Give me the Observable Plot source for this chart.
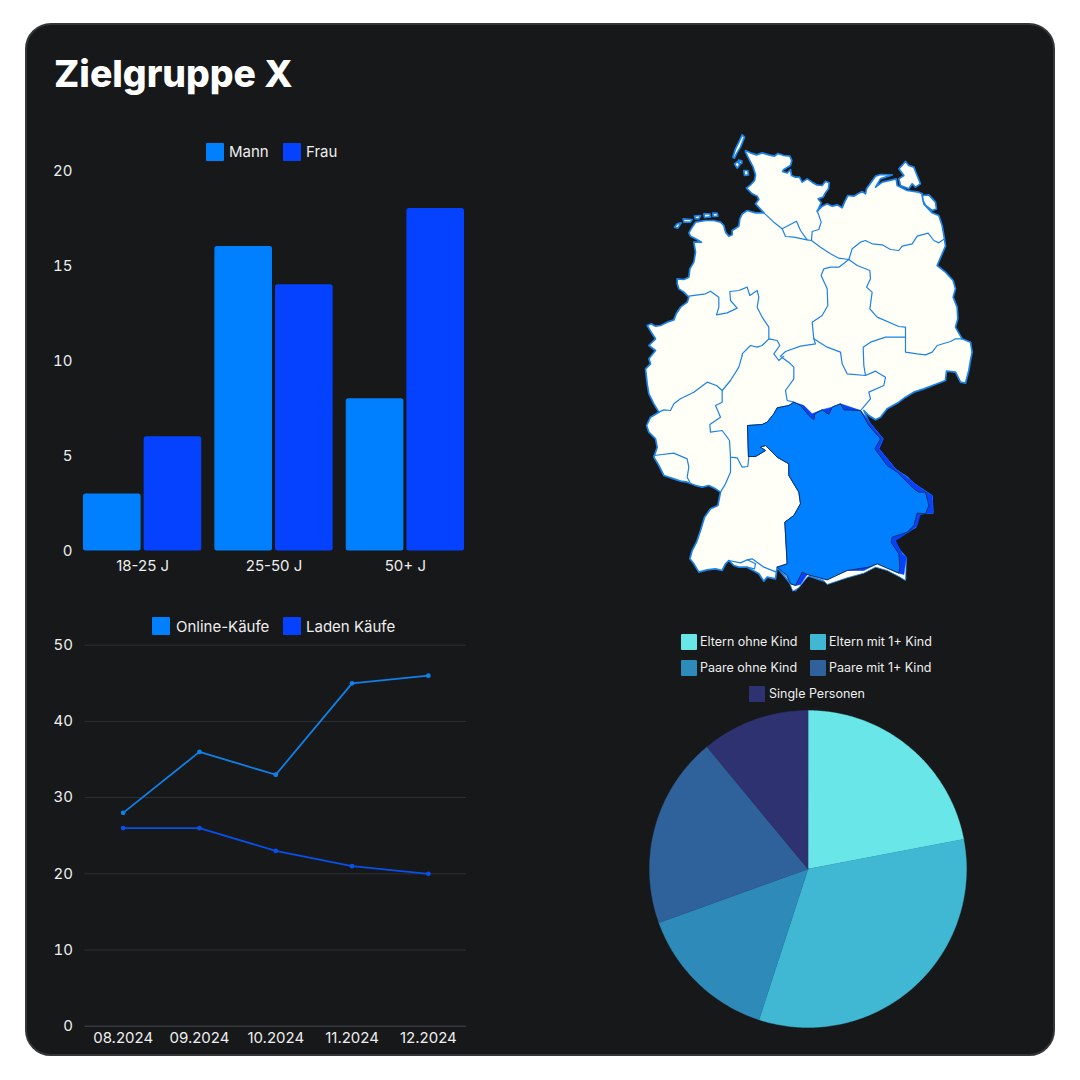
<!DOCTYPE html>
<html lang="de">
<head>
<meta charset="utf-8">
<script src="https://cdn.jsdelivr.net/npm/d3@7"></script>
<script src="https://cdn.jsdelivr.net/npm/@observablehq/plot@0.6"></script>
<style>
html,body{margin:0;padding:0;background:#fff;width:1080px;height:1080px;overflow:hidden;font-family:Inter,sans-serif}
#card{position:absolute;left:25px;top:23px;width:1026px;height:1029px;background:#16181a;border:2px solid #333537;border-radius:26px}
#title{position:absolute;left:54px;top:52px;font:800 37.3px/44px Inter,sans-serif;color:#fff;margin:0}
.slot{position:absolute}
.slot svg{overflow:visible;display:block}
.lg{position:absolute;color:#eee;white-space:nowrap}
.lg i{position:absolute;border-radius:1px}
</style>
</head>
<body>
<div id="card"></div>
<h1 id="title">Zielgruppe X</h1>
<div id="root"></div>
<script>
// ---------- Data ----------
const ageGroups = ["18-25 J", "25-50 J", "50+ J"];
const sexes = ["Mann", "Frau"];
const mann = [3, 16, 8];
const frau = [6, 14, 18];

const months = ["08.2024", "09.2024", "10.2024", "11.2024", "12.2024"];
const online = [28, 36, 33, 45, 46];
const laden = [26, 26, 23, 21, 20];
const lineTicks = [0, 10, 20, 30, 40, 50];
const barTicks = [0, 5, 10, 15, 20];

const segments = ["Eltern ohne Kind", "Eltern mit 1+ Kind", "Paare ohne Kind", "Paare mit 1+ Kind", "Single Personen"];
const shares = [22, 33, 14.5, 19.5, 11];
const segmentColors = ["#69e6e8", "#40b8d4", "#2e8ab8", "#2f619b", "#2f3270"];

const blueMann = "#0080ff", blueFrau = "#0542ff";
const lineOnline = "#1080e8", lineLaden = "#0a50e8";
const land = "#fffff8", border = "#1c82e6";

// Map outline in map units (traced); south lists have their own origin
const south = pts => pts.map(([x, y]) => [x, y + 675]);
const coastNorthEast = [[345,75],[360,82],[378,88],[395,82],[415,88],[432,92],[442,84],[460,90],[478,92],[484,105],[480,120],[460,132],[456,138],[470,142],[480,132],[483,150],[495,155],[507,155],[515,170],[530,160],[545,170],[558,178],[575,180],[585,167],[596,172],[594,190],[583,205],[578,215],[563,220],[572,232],[560,258],[575,242],[590,235],[605,242],[620,238],[635,247],[642,230],[652,210],[670,212],[682,205],[695,198],[705,205],[708,190],[722,170],[735,152],[750,147],[785,148],[750,160],[735,185],[755,170],[797,160],[800,180],[830,195],[865,200],[875,205],[880,235],[905,262],[925,270],[935,300],[942,340],[945,362],[935,385],[920,420],[945,440],[968,465],[975,490],[968,515],[980,545],[982,580],[975,605],[995,640],[1020,650],[1025,680]];
const borderSouth = south([[1020,30],[1015,60],[1005,98],[990,95],[975,65],[948,62],[945,90],[920,100],[880,115],[850,125],[825,140],[805,155],[770,175],[750,200],[735,208],[715,195],[700,180],[720,225],[755,265],[735,295],[790,355],[830,380],[865,420],[905,440],[905,485],[865,490],[855,530],[795,560],[790,580],[820,615],[825,685],[775,655],[730,640],[650,665],[590,695],[530,675],[495,720],[480,700],[440,650],[435,685],[410,680],[400,692],[385,670],[350,650],[325,650],[310,645],[295,630],[285,640],[275,660],[255,655],[230,658],[205,665],[190,640],[178,625],[185,600],[198,575],[210,540],[222,500],[240,475],[262,465],[270,425],[255,415],[235,405],[215,410],[195,405],[170,395],[150,392],[130,385],[100,375],[85,345],[70,320],[80,290],[75,265],[55,245],[48,225],[60,200],[85,185],[70,160],[55,130],[50,100],[45,55],[60,40],[55,25],[75,0]]);
const coastNorthWest = [[55,660],[75,640],[62,620],[50,600],[62,595],[75,602],[90,600],[110,590],[130,583],[137,565],[150,545],[170,530],[175,515],[160,500],[145,490],[140,475],[140,460],[160,462],[175,455],[178,430],[190,410],[195,380],[190,350],[213,350],[195,340],[180,332],[175,322],[185,305],[195,290],[225,285],[250,285],[270,290],[280,300],[285,320],[295,332],[305,328],[305,315],[325,302],[328,280],[335,265],[350,255],[375,262],[400,262],[375,235],[385,222],[380,212],[365,205],[348,188],[360,178],[372,165],[375,148],[368,125],[355,100],[345,80]];
const germany = [...coastNorthEast, ...borderSouth, ...coastNorthWest];

const islands = [
  [[335,28],[342,35],[330,65],[318,85],[312,98],[307,95],[315,70],[325,50]],
  [[312,115],[322,108],[328,118],[320,128]],
  [[324,104],[334,106],[334,114],[326,114]],
  [[340,135],[352,135],[354,148],[342,150]],
  [[132,305],[140,295],[152,292],[142,308]],
  [[158,280],[185,282],[180,290],[160,290]],
  [[192,272],[210,270],[205,280],[195,280]],
  [[220,265],[238,265],[240,274],[222,276]],
  [[247,263],[260,263],[262,272],[248,273]],
  [[825,108],[835,120],[850,125],[860,150],[870,175],[855,185],[845,175],[835,190],[810,180],[805,160],[820,150],[805,130]],
  [[875,210],[895,208],[915,230],[918,250],[905,255],[885,240],[878,225]]
];

const stateBorders = [
  [[400,262],[430,290],[455,310],[498,287],[510,315],[530,343]],
  [[455,310],[465,333],[490,335],[530,343],[543,345],[570,365],[600,385],[625,398],[655,402]],
  [[560,255],[572,290],[565,312],[545,318],[543,345]],
  [[655,402],[665,370],[690,350],[705,345],[725,355],[755,358],[780,372],[805,375],[815,362],[845,355],[860,332],[893,323],[910,345],[925,352],[942,340]],
  [[655,402],[680,420],[718,435],[720,460],[708,485],[725,500],[718,550],[740,575],[805,603],[825,605],[825,635],[825,680],[860,685],[885,688],[905,680],[920,660],[960,648],[975,640],[995,640]],
  [[825,635],[765,635],[720,650],[698,665],[700,720],[705,750]],
  [[655,402],[625,425],[600,425],[580,430],[572,450],[590,490],[592,540],[575,570],[545,590],[550,640],[555,655],[510,662],[465,678],[450,692],[480,715],[490,725],[490,760],[465,795],[470,825],[490,830]],
  [[550,640],[590,665],[630,680],[635,715],[650,745],[705,750],[735,737],[765,755],[760,780],[715,800],[720,820],[692,853]],
  [[175,512],[225,505],[240,497],[265,515],[265,545],[258,568],[290,562],[320,548],[300,525],[298,498],[325,495],[350,485],[358,510],[380,495],[385,515],[380,545],[395,575],[415,605],[415,640],[440,645],[448,660],[430,685],[445,705],[460,692]],
  [[415,640],[395,660],[380,665],[360,660],[335,685],[335,690]],
  [[335,690],[325,725],[300,765],[275,795],[258,780],[230,770],[190,800],[150,820],[130,835],[120,855],[100,853],[85,860]],
  [[275,795],[275,830],[255,840],[270,875],[238,897],[240,920],[275,915],[297,945],[300,995],[320,997],[335,1025],[352,1023],[355,993]],
  [[300,995],[300,1040],[285,1075],[270,1100]],
  [[70,990],[130,983],[170,1000],[175,1025],[170,1055],[178,1070]],
  [[295,1305],[330,1312],[350,1303],[365,1300],[400,1325],[438,1340]],
  [[350,1303],[375,1315],[372,1330],[350,1325]]
];

const bavariaWest = [[352,225],[395,222],[410,215],[430,190],[440,172],[475,165],[490,155]];
const bavariaNorth = [[510,165],[535,195],[550,208],[553,190],[575,178],[595,192],[605,170],[630,160],[640,178],[690,180]];
const bavariaWestEnd = [[440,650],[470,640],[463,515],[490,495],[510,460],[505,425],[475,375],[475,340],[440,320],[415,295],[405,285],[390,290],[405,300],[375,318],[355,318]];
const bavariaWhite = south([...bavariaWest,...bavariaNorth,[725,225],[758,265],[745,295],[795,355],[860,405],[905,435],[908,488],[865,490],[840,535],[785,565],[808,600],[828,620],[825,690],[805,678],[770,660],[735,650],[700,668],[650,682],[590,702],[575,685],[545,672],[530,680],[505,712],[487,722],[470,680],...bavariaWestEnd]);
const bavariaDark = south([...bavariaWest,[520,165],[545,190],[575,178],[605,170],[630,160],[690,180],[725,225],[758,265],[745,295],[795,355],[860,405],[885,422],[905,435],[908,488],[870,490],[860,525],[835,545],[795,570],[815,610],[828,620],[820,672],[805,668],[740,640],[700,660],[650,660],[590,688],[530,672],[510,702],[495,705],[480,700],[470,675],...bavariaWestEnd]);
const bavariaTop = south([...bavariaWest,...bavariaNorth,[715,225],[750,265],[733,295],[770,345],[800,365],[850,415],[865,425],[885,425],[895,465],[885,490],[860,488],[850,525],[830,545],[785,560],[782,575],[805,610],[808,650],[805,668],[775,655],[740,640],[715,650],[650,660],[590,688],[530,672],[515,665],[495,705],[480,700],[470,675],...bavariaWestEnd]);

// ---------- Helpers ----------
const root = document.getElementById("root");
const place = (node, left, top) => {
  const d = document.createElement("div");
  d.className = "slot";
  d.style.left = left + "px"; d.style.top = top + "px";
  d.append(node); root.append(d);
};
const legendItem = (label, color, x, y, size, textX, fontSize, textDy = 0) => {
  const d = document.createElement("div");
  d.className = "lg";
  d.style.cssText = `left:${x}px;top:${y}px;font:${fontSize}px/${size}px Inter,sans-serif;height:${size}px`;
  const i = document.createElement("i");
  i.style.cssText = `left:0;top:0;width:${size}px;height:${size}px;background:${color}`;
  const s = document.createElement("span");
  s.style.cssText = `position:absolute;left:${textX - x}px;top:${textDy}px`;
  s.textContent = label;
  d.append(i, s); root.append(d);
};
const axisStyle = {background: "transparent", color: "#eeeeee", fontFamily: "Inter, sans-serif"};

// ---------- Bars ----------
const barRows = ageGroups.flatMap((g, i) => [
  {group: g, sex: sexes[0], value: mann[i]},
  {group: g, sex: sexes[1], value: frau[i]}
]);
place(Plot.plot({
  width: 540, height: 600,
  marginLeft: 83, marginRight: 76, marginTop: 170, marginBottom: 49.5,
  style: {...axisStyle, fontSize: "15px"},
  fx: {domain: ageGroups, paddingInner: 0.1, paddingOuter: 0, round: false, label: null},
  x: {domain: sexes, paddingInner: 0.05, paddingOuter: 0, round: false, axis: null},
  y: {domain: [0, 20], label: null},
  color: {domain: sexes, range: [blueMann, blueFrau]},
  marks: [
    Plot.axisY({ticks: barTicks, tickSize: 0, tickPadding: 11, label: null, fontSize: 15, dy: 0.5}),
    Plot.axisFx({anchor: "bottom", tickSize: 0, tickPadding: 9, label: null, fontSize: 15}),
    Plot.barY(barRows, {fx: "group", x: "sex", y: "value", fill: "sex", rx: 2.5, ry: 2.5})
  ]
}), 0, 0);
legendItem("Mann", blueMann, 206, 143, 18, 229, 15);
legendItem("Frau", blueFrau, 283, 143, 18, 306, 15);

// ---------- Lines ----------
const lineRows = [
  ...months.map((m, i) => ({month: m, value: online[i], kind: "Online-Käufe"})),
  ...months.map((m, i) => ({month: m, value: laden[i], kind: "Laden Käufe"}))
];
place(Plot.plot({
  width: 540, height: 460,
  marginLeft: 84.5, marginRight: 74, marginTop: 44.7, marginBottom: 34.3,
  style: {...axisStyle, fontSize: "15px"},
  x: {type: "point", domain: months, padding: 0.5, round: false, label: null},
  y: {domain: [0, 50], label: null},
  color: {domain: ["Online-Käufe", "Laden Käufe"], range: [lineOnline, lineLaden]},
  marks: [
    Plot.ruleY(lineTicks.filter(t => t > 0), {stroke: "#2e3135", strokeWidth: 1}),
    Plot.ruleY([0], {stroke: "#45484c", strokeWidth: 1}),
    Plot.axisY({ticks: lineTicks, tickSize: 0, tickPadding: 12, label: null, fontSize: 15}),
    Plot.axisX({tickSize: 0, tickPadding: 6, label: null, fontSize: 15}),
    Plot.line(lineRows, {x: "month", y: "value", z: "kind", stroke: "kind", strokeWidth: 1.8}),
    Plot.dot(lineRows, {x: "month", y: "value", fill: "kind", r: 2.4})
  ]
}), 0, 600);

legendItem("Online-Käufe", blueMann, 152, 617, 18, 176, 15, 1);
legendItem("Laden Käufe", blueFrau, 283, 617, 18, 306, 15, 1);

// ---------- Map ----------
const shape = (rings, key) => rings.flatMap((r, i) => r.map(([x, y]) => ({x, y, id: key + i})));
const mapFill = (rings, fill, stroke, strokeWidth) =>
  Plot.line(shape(rings, "r"), {x: "x", y: "y", z: "id", curve: "linear-closed", fill, stroke, strokeWidth, strokeLinejoin: "round"});
place(Plot.plot({
  width: 350, height: 475, margin: 0,
  style: {background: "transparent"},
  x: {domain: [0, 1050], axis: null},
  y: {domain: [0, 1425], reverse: true, axis: null},
  marks: [
    mapFill([germany, ...islands], land, border, 1.7),
    Plot.line(shape(stateBorders, "b"), {x: "x", y: "y", z: "id", stroke: border, strokeWidth: 1.2, fill: "none", strokeLinejoin: "round"}),
    mapFill([bavariaWhite], land, border, 0.8),
    mapFill([bavariaDark], blueFrau, blueFrau, 0.6),
    mapFill([bavariaTop], blueMann, "#10233f", 0.8)
  ]
}), 630, 125);

// ---------- Pie ----------
const pieScale = d3.scaleLinear().domain([0, d3.sum(shares)]).range([0, 2 * Math.PI]);
let acc = 0;
const pieRows = shares.flatMap((v, i) => {
  const a0 = pieScale(acc), a1 = pieScale(acc + v);
  acc += v;
  const steps = Math.ceil((a1 - a0) / 0.01);
  const rim = d3.range(steps + 1).map(k => a0 + (a1 - a0) * k / steps);
  return [{px: 0, py: 0, segment: segments[i]},
    ...rim.map(a => ({px: Math.sin(a), py: Math.cos(a), segment: segments[i]}))];
});
place(Plot.plot({
  width: 317, height: 317, margin: 0,
  style: {background: "transparent"},
  x: {domain: [-1, 1], axis: null},
  y: {domain: [-1, 1], axis: null},
  color: {domain: segments, range: segmentColors},
  marks: [Plot.line(pieRows, {x: "px", y: "py", z: "segment", fill: "segment", stroke: "segment", strokeWidth: 0.4, curve: "linear-closed"})]
}), 649, 709.5);

legendItem(segments[0], segmentColors[0], 681, 634, 16, 700, 12.5);
legendItem(segments[1], segmentColors[1], 810, 634, 16, 829, 12.5);
legendItem(segments[2], segmentColors[2], 681, 660, 16, 700, 12.5);
legendItem(segments[3], segmentColors[3], 810, 660, 16, 829, 12.5);
legendItem(segments[4], segmentColors[4], 749, 686, 16, 769, 12.5);
</script>
</body>
</html>
